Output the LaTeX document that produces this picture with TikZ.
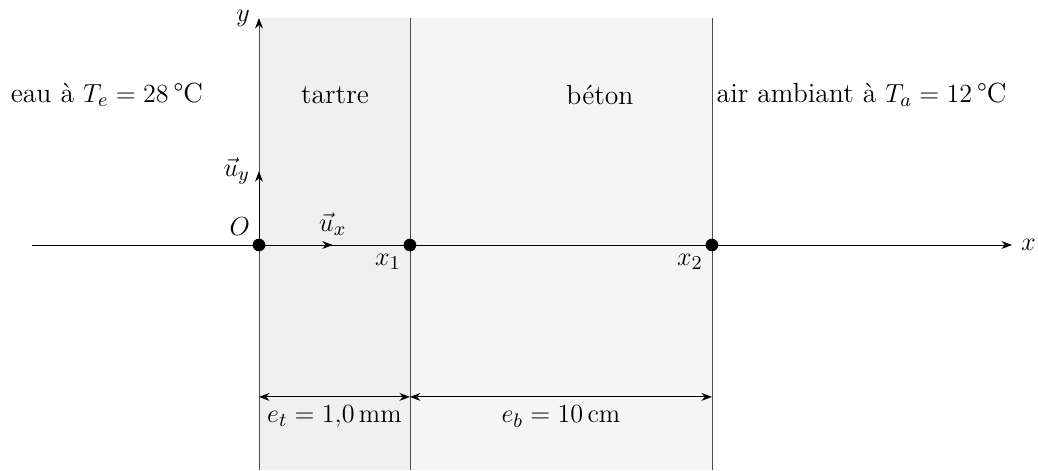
\documentclass[tikz,border=0pt,12pt]{standalone}
\usepackage{tikz}
\usetikzlibrary{positioning, arrows.meta}

\begin{document}
\begin{tikzpicture}[
    >=Stealth,
    every node/.style={font=\fontsize{12.7pt}{15pt}\selectfont},
    point/.style={circle, fill=black, inner sep=0pt, minimum size=5.8pt},
    cote/.style={<->, thin},
    paroi/.style={thin, black!70}
]
\useasboundingbox (-4.177,-3.629) rectangle (12.565,3.952);

% --- Couches (tartre puis béton) ---
\fill[black!6] (0,-3.629) rectangle (2.435,3.661);
\fill[black!4] (2.435,-3.629) rectangle (7.306,3.661);

% ============================================================
%  AXES
% ============================================================
\coordinate (orig) at (0,0);
\coordinate (xmin) at (-3.661,0);
\coordinate (xmax) at (12.145,0);
\coordinate (ymax) at (0,3.661);
\draw[->] (xmin) -- (xmax) node[right] {$x$};
\draw[->] (orig) -- (ymax) node[left] {$y$};

% --- Parois ---
\coordinate (Obas)   at (0,-3.629);
\coordinate (Ohaut)  at (0,3.55);
\coordinate (x1bas)  at (2.435,-3.629);
\coordinate (x1haut) at (2.435,3.661);
\coordinate (x2bas)  at (7.306,-3.629);
\coordinate (x2haut) at (7.306,3.661);
\draw[paroi] (Obas) -- (Ohaut);
\draw[paroi] (x1bas) -- (x1haut);
\draw[paroi] (x2bas) -- (x2haut);

% ============================================================
%  POINTS  (origine et interfaces)
% ============================================================
\node[point] (O)  at (orig)    {};
\node[point] (x1) at (2.435,0) {};
\node[point] (x2) at (7.306,0) {};
\node[above left] at (O)  {$O$};
\node[below left] at (x1) {$x_1$};
\node[below left] at (x2) {$x_2$};

% --- Vecteurs unitaires ---
\coordinate (ux) at (1.19,0);
\coordinate (uy) at (0,1.19);
\draw[->] (O) -- (ux) node[above] {$\vec{u}_x$};
\draw[->] (O) -- (uy) node[left] {$\vec{u}_y$};

% ============================================================
%  TEXTES
% ============================================================
\node (eau)    at (-2.452,2.42) {eau à $T_e = 28$\,°C};
\node (tartre) at (1.226,2.42)  {tartre};
\node (beton)  at (5.5,2.42)    {béton};
\node[right=1pt of x2haut |- beton, inner sep=1pt] (air) {air ambiant à $T_a = 12$\,°C};

% ============================================================
%  COTES
% ============================================================
\coordinate (c0) at (0,-2.45);
\coordinate (c1) at (2.435,-2.45);
\coordinate (c2) at (7.306,-2.45);
\draw[cote] (c0) -- (c1) node[midway, below] {$e_t = 1{,}0\,\mathrm{mm}$};
\draw[cote] (c1) -- (c2) node[midway, below] {$e_b = 10\,\mathrm{cm}$};

\end{tikzpicture}
\end{document}
